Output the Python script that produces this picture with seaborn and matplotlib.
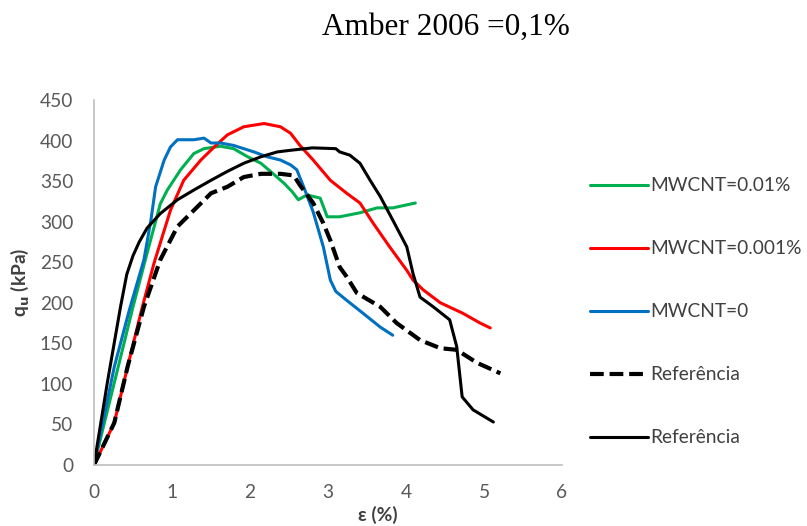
import matplotlib
matplotlib.use("Agg")
import matplotlib.pyplot as plt
import seaborn as sns
import pandas as pd

# ---- data ----
green_x = [0, 0.50, 0.68, 0.85, 0.94, 1.11, 1.28, 1.41, 1.62, 1.79, 1.97, 2.14, 2.31, 2.44, 2.54, 2.62, 2.73, 2.9, 2.99, 3.15, 3.41, 3.63, 3.83, 4.12]
green_y = [0, 195, 261, 322, 339, 364, 384, 390, 393, 390, 380, 372, 358, 347, 337, 327, 333, 329, 306, 306, 311, 317, 317, 323]

red_x = [0, 0.26, 0.43, 0.62, 0.77, 0.98, 1.15, 1.37, 1.54, 1.71, 1.92, 2.18, 2.39, 2.52, 2.64, 2.81, 3.03, 3.24, 3.41, 3.58, 3.79, 4.01, 4.09, 4.22, 4.44, 4.73, 4.95, 5.08]
red_y = [0, 52, 121, 195, 249, 314, 351, 376, 392, 407, 417, 421, 417, 409, 394, 376, 351, 335, 323, 298, 269, 240, 228, 216, 200, 187, 175, 169]

blue_x = [0, 0.26, 0.45, 0.64, 0.73, 0.79, 0.90, 0.98, 1.07, 1.28, 1.41, 1.50, 1.62, 1.79, 2.05, 2.22, 2.39, 2.52, 2.6, 2.7, 2.81, 2.94, 3.03, 3.1, 3.24, 3.45, 3.67, 3.83]
blue_y = [0, 121, 190, 253, 302, 343, 376, 392, 401, 401, 403, 397, 397, 394, 386, 380, 376, 370, 364, 340, 312, 269, 228, 214, 203, 187, 170, 160]

refd_x = [0, 0.26, 0.43, 0.64, 0.85, 1.07, 1.28, 1.50, 1.71, 1.92, 2.14, 2.39, 2.56, 2.64, 2.81, 2.94, 3.03, 3.15, 3.24, 3.37, 3.67, 3.88, 4.18, 4.44, 4.65, 4.91, 5.21]
refd_y = [0, 52, 121, 195, 253, 294, 314, 335, 343, 355, 359, 359, 357, 345, 323, 298, 277, 244, 232, 212, 195, 175, 154, 144, 142, 126, 113]

refs_x = [0, 0.17, 0.34, 0.42, 0.50, 0.58, 0.68, 0.85, 1.07, 1.28, 1.50, 1.71, 1.92, 2.14, 2.35, 2.52, 2.8, 3.1, 3.15, 3.28, 3.41, 3.54, 3.67, 3.83, 4.01, 4.09, 4.18, 4.35, 4.56, 4.65, 4.72, 4.86, 5.12]
refs_y = [0, 101, 195, 235, 258, 275, 292, 310, 327, 339, 351, 362, 372, 380, 386, 388, 391, 390, 386, 382, 372, 351, 331, 302, 269, 236, 207, 195, 179, 146, 84, 68, 53]

labels = ["MWCNT=0.01%", "MWCNT=0.001%", "MWCNT=0", "Referência", "Referência"]
x_ticks = [0, 1, 2, 3, 4, 5, 6]
y_ticks = [0, 50, 100, 150, 200, 250, 300, 350, 400, 450]
title = "Amber 2006 =0,1%"

sns.set_theme(style="white")
plt.rcParams["font.family"] = ["Lato", "DejaVu Sans"]

FS = 13.8
fig = plt.figure(figsize=(8.07, 5.26), dpi=100)
ax = fig.add_axes([94/807, 1-465/526, (562-94)/807, (465-100)/526])

series = [
    (green_x, green_y, "#00b050", "-", labels[0]),
    (red_x, red_y, "#ff0000", "-", labels[1]),
    (blue_x, blue_y, "#0070c0", "-", labels[2]),
    (refd_x, refd_y, "black", (0, (3.3, 1.4)), labels[3]),
    (refs_x, refs_y, "black", "-", labels[4]),
]
handles = []
for xs, ys, c, ls, lab in series:
    df = pd.DataFrame({"x": xs, "y": ys})
    lw = 3.0 if ls != "-" else 2.2
    sns.lineplot(data=df, x="x", y="y", ax=ax, color=c, linestyle=ls, lw=lw,
                 sort=False, estimator=None, label=lab, legend=False)
    handles.append(ax.lines[-1])

ax.set_xlim(0, 6)
ax.set_ylim(0, 450)
ax.set_xticks(x_ticks)
ax.set_yticks(y_ticks)
ax.tick_params(axis="both", length=0, labelsize=FS, labelcolor="#595959")
ax.tick_params(axis="y", pad=15)
ax.tick_params(axis="x", pad=13.5)
for s in ["top", "right"]:
    ax.spines[s].set_visible(False)
for s in ["left", "bottom"]:
    ax.spines[s].set_color("#bfbfbf")
    ax.spines[s].set_linewidth(1.2)
ax.set_xlabel("ε (%)", fontsize=FS, fontweight="bold", color="#404040")
ax.set_ylabel(r"q$_\mathbf{u}$ (kPa)", fontsize=FS, fontweight="bold", color="#404040")
ax.xaxis.set_label_coords((378-94)/468, (465-506)/365)
ax.yaxis.set_label_coords((31-94)/468, 0.5)

fig.text(446/807, 1-27/526, title, ha="center", va="center",
         fontsize=22.5, family="Liberation Serif", color="black")

leg = fig.legend(handles=handles, labels=labels, loc="upper left",
                 bbox_to_anchor=(573/807, 1-160/526), frameon=False,
                 fontsize=FS, handlelength=3.0, handletextpad=0.15,
                 labelspacing=2.40, labelcolor="#404040")

fig.savefig("out.png", dpi=100)
